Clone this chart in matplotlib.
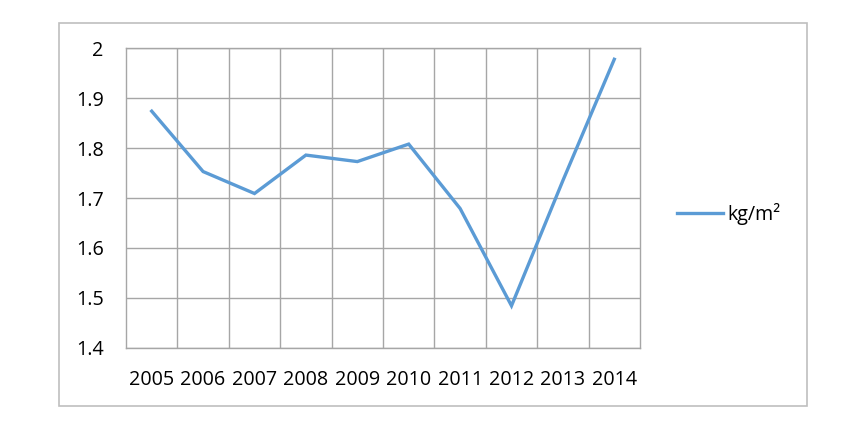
import matplotlib
matplotlib.use("Agg")
import matplotlib.pyplot as plt
from matplotlib.patches import Rectangle
from matplotlib.ticker import FixedLocator

years = ["2005", "2006", "2007", "2008", "2009", "2010", "2011", "2012", "2013", "2014"]
values = [1.874, 1.753, 1.709, 1.786, 1.773, 1.808, 1.679, 1.484, 1.735, 1.978]
y_ticks = [1.4, 1.5, 1.6, 1.7, 1.8, 1.9, 2.0]
series_name = "kg/m²"

W, H = 852, 430
plt.rcParams['font.family'] = ['Open Sans', 'DejaVu Sans']
fig = plt.figure(figsize=(W / 100, H / 100), dpi=100)

# outer chart border
fig.patches.append(Rectangle((59 / W, 1 - 406 / H), (807 - 59) / W, (406 - 22.7) / H,
                             transform=fig.transFigure, fill=False,
                             edgecolor="#bfbfbf", linewidth=1.2))

left, right, top, bottom = 126, 640, 48.3, 347.7
ax = fig.add_axes([left / W, 1 - bottom / H, (right - left) / W, (bottom - top) / H])

x = list(range(len(years)))
line, = ax.plot(x, values, color="#5B9BD5", linewidth=2.4, solid_joinstyle="miter",
                label=series_name)

ax.set_xlim(-0.5, len(years) - 0.5)
ax.set_ylim(y_ticks[0], y_ticks[-1])
ax.set_yticks(y_ticks)
ax.set_yticklabels([f"{v:g}" for v in y_ticks])
ax.set_xticks(x)
ax.set_xticklabels(years)
ax.xaxis.set_minor_locator(FixedLocator([i + 0.5 for i in range(len(years) - 1)]))

ax.grid(True, axis="y", which="major", color="#a6a6a6", linewidth=1.0)
ax.grid(True, axis="x", which="minor", color="#a6a6a6", linewidth=1.0)
ax.set_axisbelow(True)
for s in ax.spines.values():
    s.set_color("#a6a6a6")
    s.set_linewidth(1.0)
ax.tick_params(axis="both", which="both", length=0, labelsize=14.2, colors="black")
ax.tick_params(axis="y", pad=16)
ax.tick_params(axis="x", pad=16)

fig.legend(handles=[line], labels=[series_name], loc="center left",
           bbox_to_anchor=(677 / W, 1 - 214 / H), frameon=False, fontsize=14.2,
           borderaxespad=0, borderpad=0,
           handlelength=2.35, handletextpad=0.2)

fig.savefig("out.png", dpi=100, facecolor="white")
